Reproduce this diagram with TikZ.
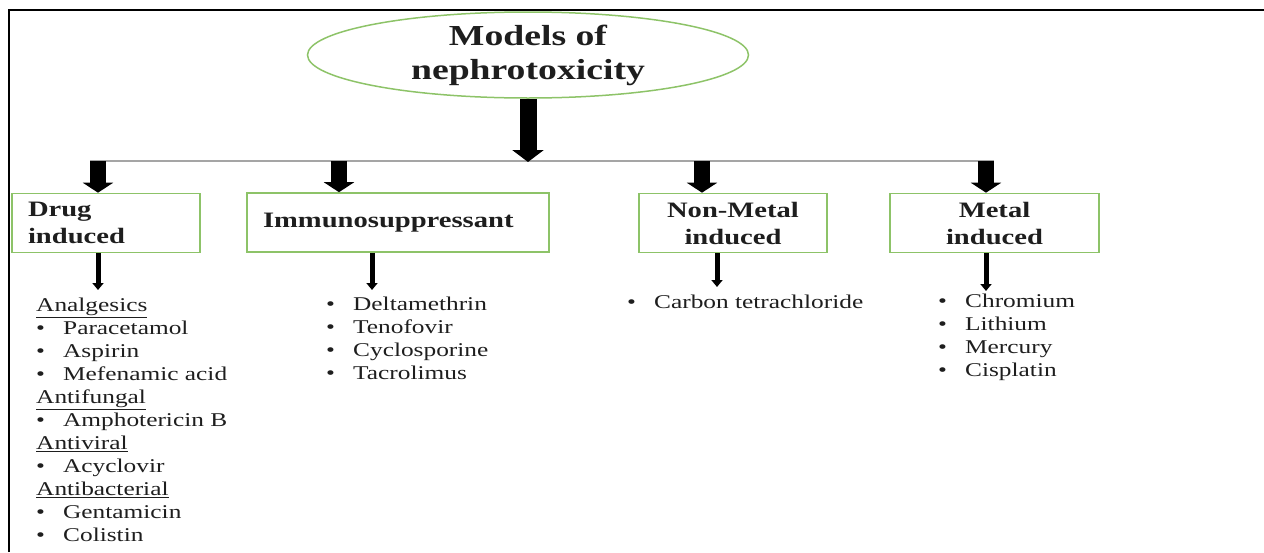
\documentclass[tikz,border=0pt]{standalone}
\usepackage{fontspec}
\setmainfont{Liberation Serif}[FakeStretch=1.3]
\usetikzlibrary{arrows.meta,shapes.geometric}
\definecolor{boxgreen}{RGB}{141,195,104}
\definecolor{linegray}{RGB}{165,165,165}
\definecolor{txt}{RGB}{30,30,30}
\newcommand{\itm}[1]{\makebox[27pt][l]{•}#1}
\begin{document}
\begin{tikzpicture}[x=1pt,y=-1pt,
  catbox/.style={draw=boxgreen,line width=1.6pt,minimum height=59pt,inner sep=0pt,align=center,text=txt,font=\fontsize{22}{27}\selectfont\bfseries},
  bigarrow/.style={line width=17pt,-{Triangle[width=31pt,length=12pt]}},
  midarrow/.style={line width=16pt,-{Triangle[width=30pt,length=10pt]}},
  smallarrow/.style={line width=5pt,-{Triangle[width=11pt,length=7pt]}},
  listtext/.style={anchor=north west,inner sep=0pt,align=left,text=txt,font=\fontsize{19.5}{23}\selectfont}]
\useasboundingbox (0,0) rectangle (1264,552);
\draw[line width=1.5pt] (9,552) -- (9,10) -- (1264,10);

\node[draw=boxgreen,line width=1.5pt,ellipse,minimum width=441pt,minimum height=86pt,inner sep=0pt,align=center,text=txt,font=\fontsize{29}{34}\selectfont\bfseries] (title) at (528,55) {Models of\\nephrotoxicity};

\node[catbox,minimum width=188pt,text width=156pt,align=left] (drug) at (106,223) {Drug\\induced};
\node[catbox,minimum width=302pt,text width=270pt,align=left] (immuno) at (398,222.5) {Immunosuppressant};
\node[catbox,minimum width=188pt] (nonmetal) at (733,223) {Non-Metal\\induced};
\node[catbox,minimum width=209pt] (metal) at (994.5,223) {Metal\\induced};

\coordinate (hl) at (90,161);
\coordinate (hr) at (994,161);
\coordinate (hm) at (528,162);
\coordinate (a1) at (98,161);
\coordinate (a2) at (339,161);
\coordinate (a3) at (702,161);
\coordinate (a4) at (986,161);
\draw[linegray,line width=2.5pt] (hl) -- (hr);
\draw[bigarrow] (title.south) -- (hm);
\draw[midarrow] (a1) -- (a1 |- drug.north);
\draw[midarrow] (a2) -- (a2 |- immuno.north);
\draw[midarrow] (a3) -- (a3 |- nonmetal.north);
\draw[midarrow] (a4) -- (a4 |- metal.north);

\coordinate (d1) at (98,290);
\coordinate (d2) at (372,290);
\coordinate (d3) at (717,287);
\coordinate (d4) at (986,291);
\draw[smallarrow] (d1 |- drug.south) -- (d1);
\draw[smallarrow] (d2 |- immuno.south) -- (d2);
\draw[smallarrow] (d3 |- nonmetal.south) -- (d3);
\draw[smallarrow] (d4 |- metal.south) -- (d4);

\node[listtext] (druglist) at (36,298) {\underline{Analgesics}\\ \itm{Paracetamol}\\ \itm{Aspirin}\\ \itm{Mefenamic acid}\\ \underline{Antifungal}\\ \itm{Amphotericin B}\\ \underline{Antiviral}\\ \itm{Acyclovir}\\ \underline{Antibacterial}\\ \itm{Gentamicin}\\ \itm{Colistin}};
\node[listtext] (immunolist) at (326,297) {\itm{Deltamethrin}\\ \itm{Tenofovir}\\ \itm{Cyclosporine}\\ \itm{Tacrolimus}};
\node[listtext] (nonmetallist) at (627,295) {\itm{Carbon tetrachloride}};
\node[listtext] (metallist) at (938,294) {\itm{Chromium}\\ \itm{Lithium}\\ \itm{Mercury}\\ \itm{Cisplatin}};
\end{tikzpicture}
\end{document}
